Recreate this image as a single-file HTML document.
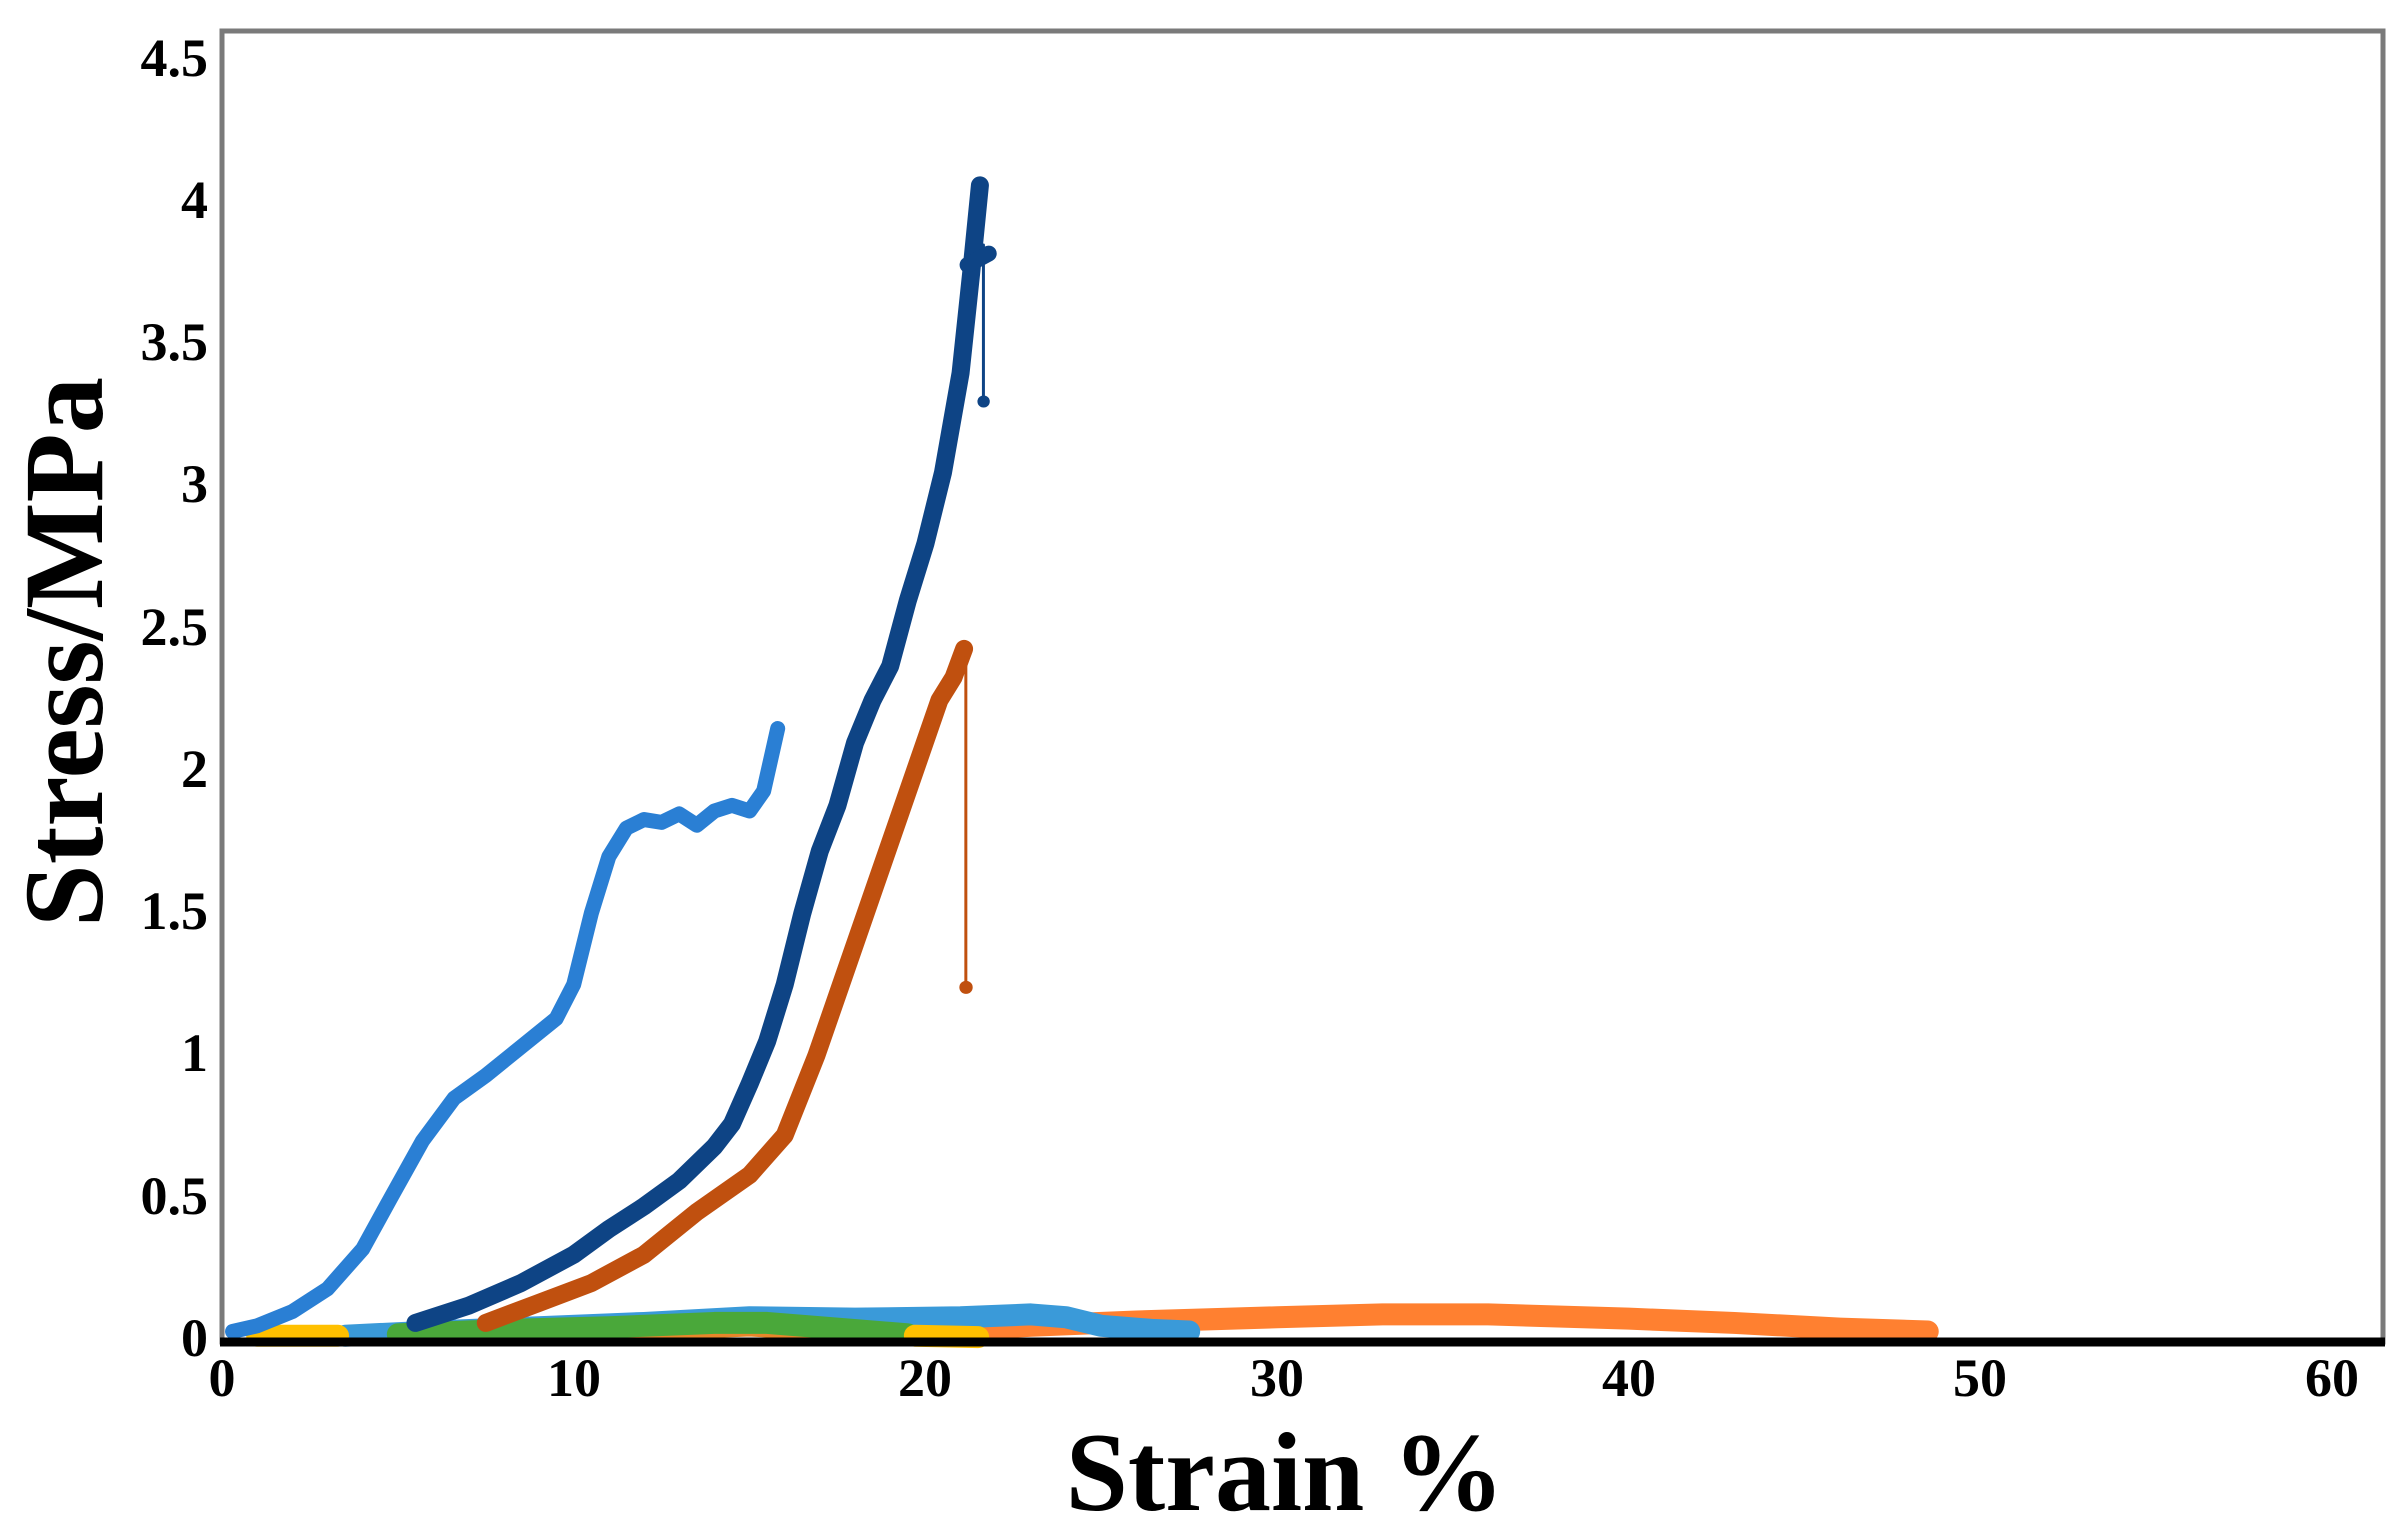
<!DOCTYPE html>
<html><head><meta charset="utf-8"><style>
html,body{margin:0;padding:0;background:#fff;}
svg{display:block;}
text{font-family:"Liberation Serif",serif;font-weight:bold;fill:#000;}
path{fill:none;stroke-linecap:round;stroke-linejoin:round;vector-effect:non-scaling-stroke;}
</style></head><body>
<svg width="2406" height="1530" viewBox="0 0 2406 1530" xmlns="http://www.w3.org/2000/svg">
<rect x="0" y="0" width="2406" height="1530" fill="#fff"/>
<rect x="222" y="31" width="2161" height="1311" fill="none" stroke="#7a7a7a" stroke-width="5"/>
<g transform="translate(222,1340) scale(35.17,-284.4)">
<path stroke="#ff8030" stroke-width="22" d="M20,0.03 L23,0.05 L26,0.065 L30,0.08 L33,0.09 L36,0.09 L40,0.075 L43,0.06 L46,0.04 L48.5,0.03"/>
<path stroke="#e8862a" stroke-width="10" d="M10,0.002 L13,0.02 L15,0.03 L17,0.015 L20,0.002"/>
<path stroke="#3a9ad9" stroke-width="22" d="M3.5,0.015 L6,0.03 L9,0.045 L12,0.06 L15,0.08 L18,0.075 L21,0.08 L23,0.09 L24,0.08 L25,0.05 L26.5,0.035 L27.5,0.03"/>
<path stroke="#4aa83a" stroke-width="22" d="M5,0.02 L8,0.035 L11,0.045 L14,0.06 L15.5,0.06 L17,0.045 L19.5,0.02"/>
<path stroke="#ffc000" stroke-width="22" d="M1,0.015 L3.3,0.015"/>
<path stroke="#ffc000" stroke-width="22" d="M19.7,0.015 L21.5,0.01"/>
<path stroke="#2a7fd4" stroke-width="15" d="M0.3,0.03 L1,0.05 L2,0.1 L3,0.18 L4,0.32 L4.8,0.5 L5.7,0.7 L6.6,0.85 L7.5,0.93 L8.5,1.03 L9.5,1.13 L10,1.25 L10.5,1.5 L11,1.7 L11.5,1.8 L12,1.83 L12.5,1.82 L13,1.85 L13.5,1.81 L14,1.86 L14.5,1.88 L15,1.86 L15.4,1.93 L15.8,2.15"/>
<path stroke="#0e4485" stroke-width="18" d="M5.5,0.06 L7,0.12 L8.5,0.2 L10,0.3 L11,0.39 L12,0.47 L13,0.56 L14,0.68 L14.5,0.76 L15,0.9 L15.5,1.05 L16,1.25 L16.5,1.5 L17,1.72 L17.5,1.88 L18,2.1 L18.5,2.25 L19,2.37 L19.5,2.6 L20,2.8 L20.5,3.05 L21,3.4 L21.3,3.75 L21.55,4.06"/>
<path stroke="#0e4485" stroke-width="16" d="M21.2,3.78 L21.8,3.82"/>
<path stroke="#0e4485" stroke-width="3" d="M21.65,3.85 L21.65,3.3"/>
<path stroke="#0e4485" stroke-width="12" d="M21.65,3.3 L21.66,3.3"/>
<path stroke="#c0500f" stroke-width="18" d="M7.5,0.06 L9,0.13 L10.5,0.2 L12,0.3 L13.5,0.45 L15,0.58 L16,0.72 L16.9,1.0 L17.6,1.25 L18.3,1.5 L19,1.75 L19.7,2.0 L20.4,2.25 L20.8,2.33 L21.1,2.43"/>
<path stroke="#c0500f" stroke-width="3" d="M21.15,2.4 L21.15,1.24"/>
<path stroke="#c0500f" stroke-width="13" d="M21.15,1.24 L21.16,1.24"/>
</g>
<line x1="220" y1="1342" x2="2385" y2="1342" stroke="#000" stroke-width="9"/>
<g font-size="54" text-anchor="end">
<text x="208" y="1356">0</text>
<text x="208" y="1214">0.5</text>
<text x="208" y="1071">1</text>
<text x="208" y="929">1.5</text>
<text x="208" y="787">2</text>
<text x="208" y="645">2.5</text>
<text x="208" y="502">3</text>
<text x="208" y="360">3.5</text>
<text x="208" y="218">4</text>
<text x="208" y="76">4.5</text>
</g>
<g font-size="54" text-anchor="middle">
<text x="222" y="1396">0</text>
<text x="574" y="1396">10</text>
<text x="925" y="1396">20</text>
<text x="1277" y="1396">30</text>
<text x="1629" y="1396">40</text>
<text x="1980" y="1396">50</text>
<text x="2332" y="1396">60</text>
</g>
<text x="1285" y="1510" font-size="112" text-anchor="middle">Strain %</text>
<text transform="translate(102,652) rotate(-90)" font-size="113" text-anchor="middle">Stress/MPa</text>
</svg>
</body></html>
